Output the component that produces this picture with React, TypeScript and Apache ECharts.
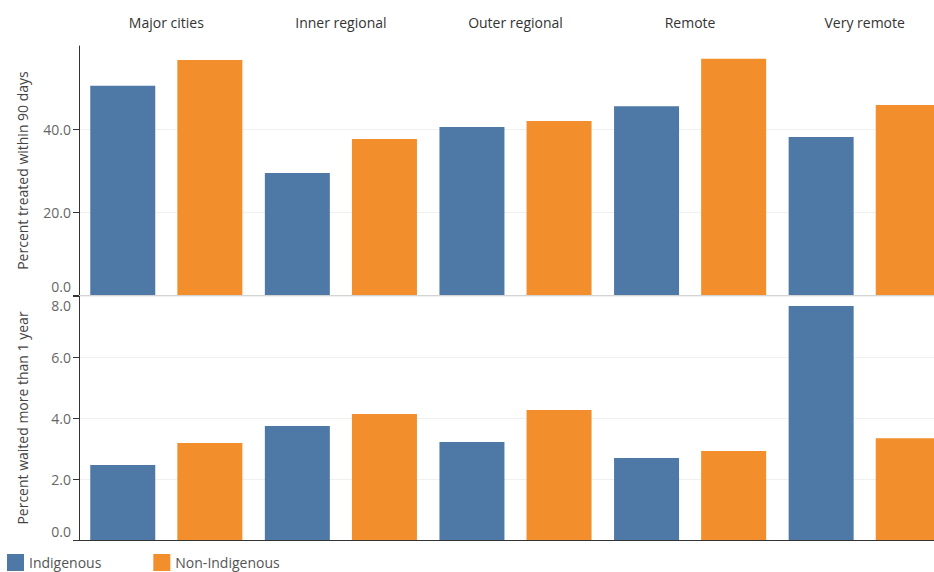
import React, { useEffect, useRef } from "react";
import * as echarts from "echarts";

const categories = ["Major cities", "Inner regional", "Outer regional", "Remote", "Very remote"];
const treatedIndigenous = [50.4, 29.4, 40.5, 45.5, 38.1];
const treatedNonIndigenous = [56.6, 37.6, 41.9, 56.9, 45.8];
const waitedIndigenous = [2.46, 3.74, 3.21, 2.69, 7.67];
const waitedNonIndigenous = [3.18, 4.13, 4.26, 2.92, 3.34];
const treatedTicks = [0, 20, 40];
const waitedTicks = [0, 2, 4, 6, 8];
const seriesNames = ["Indigenous", "Non-Indigenous"];
const colors = ["#4e79a7", "#f28e2b"];

const FONT = "'Open Sans', sans-serif";

export default function App() {
  const ref = useRef<HTMLDivElement>(null);
  useEffect(() => {
    if (!ref.current) return;
    const chart = echarts.init(ref.current, undefined, { renderer: "svg" });
    const richBase = {
      lo: { color: "#666", fontFamily: FONT, fontSize: 14, lineHeight: 14, padding: [0, 0, 4, 0] },
      hi: { color: "#666", fontFamily: FONT, fontSize: 14, lineHeight: 14, padding: [4, 0, 0, 0] },
    };
    const axisLabelBase = {
      color: "#666",
      fontFamily: FONT,
      fontSize: 14,
      lineHeight: 14,
      margin: 8,
      rich: richBase,
    };
    const yCommon = {
      type: "value" as const,
      axisLine: { show: true, lineStyle: { color: "#333", width: 1 } },
      splitLine: { show: true, lineStyle: { color: "#f0f0f0" } },
      nameLocation: "middle" as const,
      nameRotate: 90,
      nameGap: 50,
      nameTextStyle: { color: "#444", fontFamily: FONT, fontSize: 14 },
    };
    const barCommon = {
      type: "bar" as const,
      barWidth: 65,
      barGap: "34%",
    };
    chart.setOption({
      animation: false,
      backgroundColor: "#fff",
      grid: [
        { left: 79, width: 873, top: 46, height: 249, outerBoundsMode: "none", containLabel: false },
        { left: 79, width: 873, top: 296, height: 244, outerBoundsMode: "none", containLabel: false },
      ],
      xAxis: [
        {
          type: "category",
          data: categories,
          gridIndex: 0,
          position: "top",
          axisLine: { show: true, lineStyle: { color: "#c8c8c8" } },
          axisTick: { show: false },
          axisLabel: { color: "#333", fontFamily: FONT, fontSize: 14, margin: 17 },
        },
        {
          type: "category",
          data: categories,
          gridIndex: 0,
          position: "bottom",
          axisLine: { show: true, lineStyle: { color: "#d4d4d4" } },
          axisTick: { show: false },
          axisLabel: { show: false },
        },
        {
          type: "category",
          data: categories,
          gridIndex: 1,
          position: "bottom",
          axisLine: { show: true, lineStyle: { color: "#333" } },
          axisTick: { show: false },
          axisLabel: { show: false },
        },
      ],
      yAxis: [
        {
          ...yCommon,
          gridIndex: 0,
          min: 0,
          max: 60,
          interval: 20,
          name: "Percent treated within 90 days",
          axisTick: { show: true, length: 6, lineStyle: { color: "#333" }, customValues: treatedTicks },
          axisLabel: {
            ...axisLabelBase,
            customValues: treatedTicks,
            formatter: (v: number) => (v === 0 ? "{lo|0.0}" : v.toFixed(1)),
            verticalAlignMinLabel: "bottom",
          },
        },
        {
          ...yCommon,
          gridIndex: 1,
          min: 0,
          max: 8,
          interval: 2,
          name: "Percent waited more than 1 year",
          axisTick: { show: true, length: 6, lineStyle: { color: "#333" }, customValues: waitedTicks },
          axisLabel: {
            ...axisLabelBase,
            customValues: waitedTicks,
            formatter: (v: number) =>
              v === 0 ? "{lo|0.0}" : v === 8 ? "{hi|8.0}" : v.toFixed(1),
            verticalAlignMinLabel: "bottom",
            verticalAlignMaxLabel: "top",
          },
        },
      ],
      legend: {
        data: seriesNames,
        left: 7,
        top: 554,
        padding: 0,
        icon: "rect",
        itemWidth: 17,
        itemHeight: 17,
        itemGap: 52,
        textStyle: { color: "#555", fontFamily: FONT, fontSize: 14, lineHeight: 15 },
      },
      series: [
        { ...barCommon, name: seriesNames[0], xAxisIndex: 0, yAxisIndex: 0, data: treatedIndigenous, itemStyle: { color: colors[0] } },
        { ...barCommon, name: seriesNames[1], xAxisIndex: 0, yAxisIndex: 0, data: treatedNonIndigenous, itemStyle: { color: colors[1] } },
        { ...barCommon, name: seriesNames[0], xAxisIndex: 2, yAxisIndex: 1, data: waitedIndigenous, itemStyle: { color: colors[0] } },
        { ...barCommon, name: seriesNames[1], xAxisIndex: 2, yAxisIndex: 1, data: waitedNonIndigenous, itemStyle: { color: colors[1] } },
      ],
    });
    return () => chart.dispose();
  }, []);
  return (
    <div
      ref={ref}
      style={{ position: "fixed", left: 0, top: 0, width: 934, height: 572, background: "#fff" }}
    />
  );
}
